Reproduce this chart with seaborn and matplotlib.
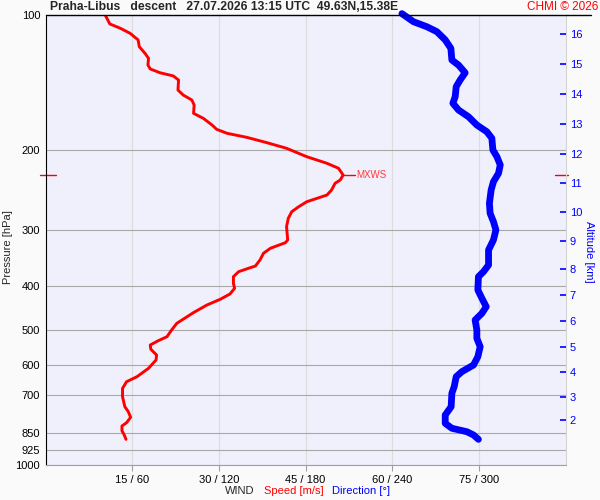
import numpy as np
import matplotlib
matplotlib.use("Agg")
import matplotlib.pyplot as plt
from matplotlib.ticker import FixedLocator, NullLocator
from matplotlib.lines import Line2D
import seaborn as sns

# wind speed profile: pressure [hPa] / speed [m/s]
speed_pres = [100, 104.7, 107.0, 109.8, 113.6, 117.6, 121.7, 124.8, 129.2, 131.8,
              134.4, 136.6, 139.5, 146.8, 150.6, 154.5, 158.5, 165.4, 169.7, 175.6,
              179.5, 183.2, 187.0, 192.2, 197.8, 206.5, 213.6, 219.1, 226.8, 232.6,
              236.6, 244.8, 251.2, 254.2, 260.0, 266.7, 273.6, 283.0, 295.4, 316.2,
              320.6, 329.9, 338.5, 350.3, 361.3, 365.5, 371.9, 381.6, 394.7, 404.9,
              416.9, 428.4, 441.1, 458.4, 484.3, 501.2, 518.6, 529.3, 541.2, 553.2,
              569.6, 584.4, 609.7, 636.5, 653.0, 675.5, 705.1, 742.1, 761.4, 783.4,
              805.4, 819.1, 839.1, 857.7, 877.0]
speed_ms = [10.3, 11.1, 12.9, 14.6, 16.0, 16.2, 17.2, 17.8, 17.7, 18.1,
            19.8, 22.1, 23.0, 22.9, 23.8, 25.3, 25.7, 25.6, 27.3, 28.8,
            29.6, 31.4, 34.8, 38.3, 41.7, 45.2, 48.7, 50.7, 51.5, 51.0,
            50.1, 49.5, 48.7, 47.5, 45.2, 43.8, 42.6, 42.0, 41.7, 41.9,
            41.5, 38.9, 37.7, 37.1, 36.3, 35.1, 33.4, 32.5, 32.5, 32.7,
            31.9, 30.2, 27.9, 25.6, 22.7, 21.8, 21.0, 19.5, 18.1, 18.2,
            19.2, 19.1, 17.8, 15.8, 14.0, 13.3, 13.3, 13.7, 14.3, 14.7,
            14.0, 13.2, 13.2, 13.6, 13.9]

# wind direction profile: pressure [hPa] / direction [deg]
dir_pres = [99.3, 103.5, 106.2, 108.9, 113.6, 118.6, 125.9, 129.2, 134.4, 139.5,
            144.3, 151.9, 157.1, 162.6, 168.3, 175.6, 181.7, 187.9, 199.5, 206.5,
            215.4, 224.8, 234.7, 244.8, 262.1, 275.9, 287.9, 300.4, 316.2, 332.8,
            359.4, 371.9, 381.6, 408.4, 426.2, 444.9, 460.2, 476.2, 501.2, 523.0,
            546.0, 574.5, 599.5, 620.4, 636.5, 669.9, 692.9, 742.1, 774.3, 808.0,
            828.7, 843.4, 857.7, 877.0]
dir_deg = [246.7, 254.7, 264.0, 270.9, 276.7, 280.6, 281.3, 285.9, 290.5, 287.0,
           284.3, 283.6, 282.0, 285.9, 292.8, 298.6, 305.5, 309.0, 309.7, 312.5,
           314.8, 313.6, 310.1, 308.5, 307.3, 307.8, 310.1, 311.8, 310.1, 306.7,
           306.7, 303.2, 299.7, 299.3, 302.1, 305.1, 302.1, 297.4, 298.6, 298.6,
           300.9, 299.3, 296.3, 288.2, 284.3, 282.9, 281.3, 280.8, 276.7, 276.7,
           281.3, 291.7, 296.3, 299.7]

pres_levels = [100, 200, 300, 400, 500, 600, 700, 850, 925, 1000]
speed_ticks = [15, 30, 45, 60, 75]
dir_ticks = [60, 120, 180, 240, 300]
alt_km = [2, 3, 4, 5, 6, 7, 8, 9, 10, 11, 12, 13, 14, 15, 16]
alt_pres = [795.6, 705.1, 622.3, 546.9, 479.3, 419.6, 366.3, 318.4, 274.1,
            236.2, 203.3, 175.0, 150.1, 128.3, 110.0]

sns.set_theme(style="white")
plt.rcParams['font.family'] = ['Liberation Sans', 'DejaVu Sans']

fig = plt.figure(figsize=(6, 5), dpi=100, facecolor='#fafafa')
ax = fig.add_axes([0.0762, 0.07, 0.8663, 0.90])
ax.set_facecolor('#f0f0fc')
ax.set_yscale('log')

# speed (red)
sns.lineplot(x=speed_ms, y=speed_pres, sort=False, estimator=None,
             color='red', lw=2.1, ax=ax, zorder=3)
ax.set_xlim(0, 90)
ax.set_ylim(1000, 100)
ax.set_xlabel('')
ax.set_ylabel('')

ax.yaxis.set_major_locator(FixedLocator(pres_levels))
ax.yaxis.set_minor_locator(NullLocator())
ax.set_yticklabels([str(p) for p in pres_levels])
ax.set_xticks(speed_ticks)
ax.set_xticklabels([f'{s} / {d}' for s, d in zip(speed_ticks, dir_ticks)])
ax.tick_params(axis='y', length=0, pad=4, labelsize=8, labelcolor='black')
ax.tick_params(axis='x', direction='out', length=4, width=0.8, color='#a0a0a0',
               pad=3, labelsize=8, labelcolor='black', bottom=True)
ax.xaxis.grid(True, color='#dcdcdc', lw=0.8)
ax.yaxis.grid(True, color='#a8a8a8', lw=0.8)
ax.set_axisbelow(True)
for side, col in [('left', 'black'), ('bottom', '#a0a0a0'), ('right', '#d4d4d4')]:
    ax.spines[side].set_color(col)
    ax.spines[side].set_linewidth(0.8)
ax.spines['top'].set_visible(False)

# direction (blue) on its own x scale
ax_dir = ax.twiny()
sns.lineplot(x=dir_deg, y=dir_pres, sort=False, estimator=None,
             color='blue', lw=4.9, solid_capstyle='round', ax=ax_dir, zorder=3,
             clip_on=False)
ax_dir.set_xlim(0, 360)
ax_dir.set_ylim(1000, 100)
ax_dir.xaxis.set_visible(False)
ax_dir.set_xlabel('')
ax_dir.set_ylabel('')
for sp in ax_dir.spines.values():
    sp.set_visible(False)

# altitude axis on the right
ax_alt = ax.twinx()
ax_alt.set_yscale('log')
ax_alt.set_ylim(1000, 100)
ax_alt.yaxis.set_major_locator(FixedLocator(alt_pres))
ax_alt.yaxis.set_minor_locator(NullLocator())
ax_alt.set_yticklabels([str(a) for a in alt_km])
ax_alt.tick_params(axis='y', direction='in', length=4.3, width=1.2, color='blue',
                   labelcolor='blue', labelsize=8, pad=3)
for sp in ax_alt.spines.values():
    sp.set_visible(False)

# max wind marker
i_max = int(np.argmax(speed_ms))
p_max, s_max = speed_pres[i_max], speed_ms[i_max]
ax.plot([s_max, s_max + 2], [p_max, p_max], color='red', lw=1, zorder=4)
ax.text(s_max + 2.3, p_max, 'MXWS', color='#ff3838', fontsize=7, va='center')
yt = ax.get_yaxis_transform()
ax.plot([-0.011, 0.02], [p_max, p_max], color='red', lw=1, transform=yt, clip_on=False)
ax.plot([0.979, 1.004], [p_max, p_max], color='red', lw=1, transform=yt, clip_on=False)

# header
fig.add_artist(Line2D([46 / 600, 591 / 600], [0.97, 0.97], color='black', lw=1))
fig.text(50 / 600, 0.985, 'Praha-Libus   descent   27.07.2026 13:15 UTC  49.63N,15.38E',
         fontsize=8.7, fontweight='bold', ha='left', va='center')
fig.text(598 / 600, 0.985, 'CHMI \u00a9 2026', fontsize=8.5, color='red', ha='right', va='center')

# axis titles
fig.text(0.013, 0.505, 'Pressure [hPa]', rotation=90, fontsize=8, ha='center', va='center')
fig.text(589 / 600, 0.496, 'Altitude [km]', rotation=270, fontsize=8, color='blue',
         ha='center', va='center')
fig.text(225 / 600, 0.018, 'WIND', fontsize=8, ha='left', va='center')
fig.text(264 / 600, 0.018, 'Speed [m/s]', fontsize=8, color='red', ha='left', va='center')
fig.text(332 / 600, 0.018, 'Direction [\u00b0]', fontsize=8, color='blue', ha='left', va='center')

fig.savefig('out.png', dpi=100, facecolor=fig.get_facecolor())
